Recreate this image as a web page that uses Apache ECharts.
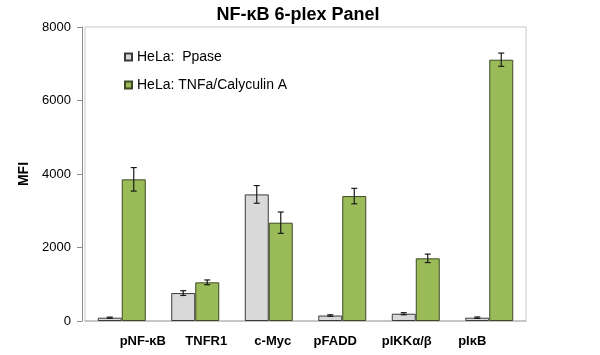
<!DOCTYPE html>
<html>
<head>
<meta charset="utf-8">
<script src="https://cdn.jsdelivr.net/npm/echarts@6/dist/echarts.min.js"></script>
<style>html,body{margin:0;padding:0;background:#fff;}#c{width:600px;height:355px;}</style>
</head>
<body>
<div id="c"></div>
<script>
const categories = ['pNF-κB', 'TNFR1', 'c-Myc', 'pFADD', 'pIKKα/β', 'pIκB'];
const seriesNames = ['HeLa:  Ppase', 'HeLa: TNFa/Calyculin A'];
const ppase = [90, 760, 3445, 148, 198, 90];
const ppaseErr = [15, 65, 240, 22, 28, 20];
const tnfa = [3855, 1052, 2675, 3400, 1705, 7110];
const tnfaErr = [320, 65, 290, 210, 115, 180];
const yTicks = [0, 2000, 4000, 6000, 8000];
// horizontal nudge of each category label (layout only)
const labelShift = [21, 11, 4, -7, -9, -17];

const BAR_W = 24;
const chart = echarts.init(document.getElementById('c'), null, {renderer: 'canvas'});

function errSeries(vals, errs, side) {
  return {
    type: 'custom',
    z: 10,
    silent: true,
    data: vals.map((v, i) => [i, v, errs[i]]),
    renderItem: function (params, api) {
      const i = api.value(0), v = api.value(1), e = api.value(2);
      const c = api.coord([i, v]);
      const x = c[0] + side * BAR_W / 2;
      const top = api.coord([i, v + e])[1];
      const bot = api.coord([i, v - e])[1];
      const hw = 3;
      const st = {stroke: '#1a1a1a', lineWidth: 1.2};
      return {
        type: 'group',
        children: [
          {type: 'line', shape: {x1: x, y1: top, x2: x, y2: bot}, style: st},
          {type: 'line', shape: {x1: x - hw, y1: top, x2: x + hw, y2: top}, style: st},
          {type: 'line', shape: {x1: x - hw, y1: bot, x2: x + hw, y2: bot}, style: st}
        ]
      };
    }
  };
}

const rich = {};
labelShift.forEach((s, i) => {
  rich['s' + i] = {
    fontWeight: 'bold', fontSize: 13, color: '#000', fontFamily: 'Liberation Sans, Arial, sans-serif',
    padding: s >= 0 ? [0, 0, 0, 2 * s] : [0, -2 * s, 0, 0]
  };
});

chart.setOption({
  animation: false,
  backgroundColor: '#fff',
  textStyle: {fontFamily: 'Liberation Sans, Arial, sans-serif'},
  title: {
    text: 'NF-κB 6-plex Panel',
    left: 293, top: 1, textAlign: 'center',
    textStyle: {fontSize: 18, fontWeight: 'bold', color: '#000', fontFamily: 'Liberation Sans, Arial, sans-serif'}
  },
  legend: {
    orient: 'vertical',
    left: 119, top: 45,
    itemWidth: 7, itemHeight: 7, itemGap: 14,
    icon: 'rect',
    textStyle: {fontSize: 14, color: '#000'},
    data: seriesNames
  },
  grid: {
    left: 85, right: 74, top: 27, bottom: 34,
    show: true, borderColor: '#c8c8c8', borderWidth: 1
  },
  xAxis: {
    type: 'category',
    data: categories,
    axisLine: {lineStyle: {color: '#bdbdbd', width: 1.5}},
    axisTick: {show: false},
    axisLabel: {
      margin: 14, interval: 0,
      formatter: function (v, i) { return '{s' + i + '|' + v + '}'; },
      rich: rich
    }
  },
  yAxis: {
    type: 'value',
    min: yTicks[0], max: yTicks[yTicks.length - 1], interval: 2000,
    offset: 3,
    name: 'MFI', nameLocation: 'middle', nameGap: 43,
    nameTextStyle: {fontWeight: 'bold', fontSize: 14, color: '#000'},
    axisLine: {show: true, lineStyle: {color: '#8a8a8a'}},
    axisTick: {show: true, length: 5, lineStyle: {color: '#8a8a8a'}},
    splitLine: {show: false},
    axisLabel: {fontSize: 13, color: '#000', margin: 11, formatter: function (v) { return String(v); }}
  },
  series: [
    {
      name: seriesNames[0], type: 'bar', data: ppase,
      barWidth: BAR_W, barGap: '0%',
      itemStyle: {color: '#d9d9d9', borderColor: '#3a3a3a', borderWidth: 1}
    },
    {
      name: seriesNames[1], type: 'bar', data: tnfa,
      barWidth: BAR_W, barGap: '0%',
      itemStyle: {color: '#9bbb59', borderColor: '#3c4a25', borderWidth: 1}
    },
    errSeries(ppase, ppaseErr, -1),
    errSeries(tnfa, tnfaErr, 1)
  ]
});
</script>
</body>
</html>
